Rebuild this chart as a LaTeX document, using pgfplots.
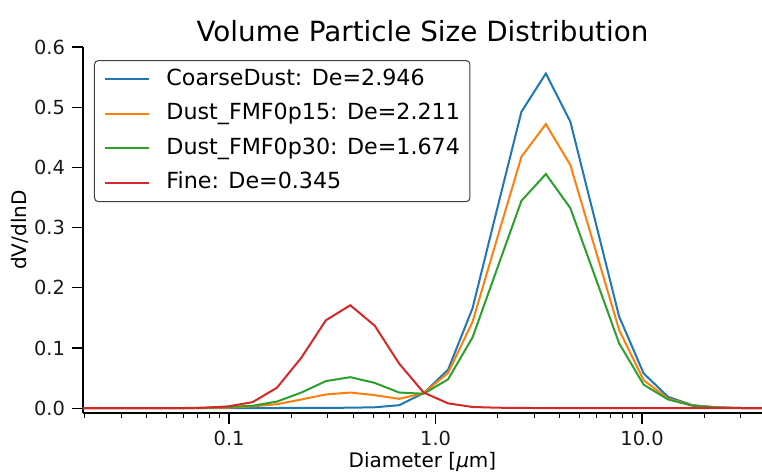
\documentclass[border=0pt]{standalone}
\usepackage{fontspec}
\setmainfont{DejaVu Sans}
\usepackage{pgfplots}
\usepackage{pgfplotstable}
\pgfplotsset{compat=1.18}

\definecolor{tabblue}{HTML}{1F77B4}
\definecolor{taborange}{HTML}{FF7F0E}
\definecolor{tabgreen}{HTML}{2CA02C}
\definecolor{tabred}{HTML}{D62728}

% Volume size distributions on log-spaced diameter bins (um)
\pgfplotstableread{
d        coarse  fmf15   fmf30   fine
0.01925  0.0000  0.0000  0.0000  0.0000
0.02528  0.0000  0.0000  0.0000  0.0000
0.03321  0.0000  0.0000  0.0000  0.0000
0.04362  0.0000  0.0000  0.0000  0.0000
0.05729  0.0000  0.0000  0.0000  0.0002
0.07523  0.0000  0.0003  0.0005  0.0008
0.09883  0.0001  0.0010  0.0020  0.0030
0.1298   0.0002  0.0030  0.0040  0.0100
0.1705   0.0003  0.0066  0.0110  0.0340
0.2239   0.0004  0.0145  0.0260  0.0840
0.2941   0.0005  0.0228  0.0450  0.1460
0.3863   0.0008  0.0260  0.0515  0.1710
0.5074   0.0015  0.0216  0.0420  0.1370
0.6664   0.0050  0.0155  0.0260  0.0740
0.8753   0.0250  0.0250  0.0240  0.0260
1.1497   0.0640  0.0587  0.0480  0.0080
1.510    0.1660  0.1435  0.1175  0.0020
1.983    0.3300  0.2810  0.2310  0.0008
2.605    0.4925  0.4177  0.3446  0.0004
3.421    0.5560  0.4720  0.3890  0.0002
4.494    0.4760  0.4040  0.3324  0.0001
5.902    0.3140  0.2670  0.2200  0.0000
7.751    0.1520  0.1296  0.1075  0.0000
10.18    0.0577  0.0465  0.0390  0.0000
13.37    0.0188  0.0160  0.0145  0.0000
17.56    0.0050  0.0045  0.0040  0.0000
23.07    0.0015  0.0012  0.0010  0.0000
30.29    0.0003  0.0003  0.0003  0.0000
39.79    0.0000  0.0000  0.0000  0.0000
}\psd

\begin{document}
\begin{tikzpicture}
\useasboundingbox (-41.5pt,-29.5pt) rectangle (339.5pt,206.5pt);
\begin{axis}[
  at={(0,0)}, anchor=south west,
  scale only axis, width=339.5pt, height=183pt,
  xmode=log, xmin=0.0196, xmax=38.1,
  ymin=-0.008, ymax=0.6,
  axis lines=left,
  axis line style={-, line width=0.65pt, black},
  tick align=outside,
  major tick length=5.5pt, minor tick length=2.6pt,
  every major tick/.style={line width=0.65pt, black},
  every minor tick/.style={line width=0.5pt, black},
  xtick={0.1,1,10}, xticklabels={0.1,1.0,10.0},
  minor xtick={0.02,0.03,0.04,0.05,0.06,0.07,0.08,0.09,
               0.2,0.3,0.4,0.5,0.6,0.7,0.8,0.9,
               2,3,4,5,6,7,8,9,20,30},
  ytick={0,0.1,0.2,0.3,0.4,0.5,0.6},
  yticklabels={0.0,0.1,0.2,0.3,0.4,0.5,0.6},
  tick label style={font=\fontsize{9.7}{11}\selectfont, text=black!90},
  title={Volume Particle Size Distribution},
  every axis title/.style={at={(rel axis cs:0.5,1)}, anchor=base,
    yshift=2.6pt, font=\fontsize{13.9}{16}\selectfont},
  xlabel={Diameter [{\itshape μ}m]},
  ylabel={dV/dlnD},
  every axis x label/.style={at={(rel axis cs:0.5,0)}, anchor=base,
    yshift=-27pt, font=\fontsize{10}{12}\selectfont},
  every axis y label/.style={at={(rel axis cs:0,0.5)}, xshift=-31.7pt,
    anchor=center, rotate=90, font=\fontsize{10}{12}\selectfont},
  legend cell align=left,
  legend image code/.code={\draw[#1] (0pt,0pt) -- (22pt,0pt);},
  legend style={at={(rel axis cs:0.0162,0.9645)}, anchor=north west,
    draw=black!75, line width=0.5pt, rounded corners=2pt,
    font=\fontsize{11.1}{13}\selectfont,
    inner xsep=5pt, inner ysep=4pt, row sep=6.6pt,
    nodes={inner sep=0pt, text height=8.3pt, text depth=2.4pt}},
  legend style={/tikz/every even column/.append style={column sep=4pt}},
  clip=true,
]
\addplot[tabblue, line width=1pt] table[x=d, y=coarse] {\psd};
\addlegendentry{\hspace{8pt}CoarseDust: De=2.946}
\addplot[taborange, line width=1pt] table[x=d, y=fmf15] {\psd};
\addlegendentry{\hspace{8pt}Dust\_FMF0p15: De=2.211}
\addplot[tabgreen, line width=1pt] table[x=d, y=fmf30] {\psd};
\addlegendentry{\hspace{8pt}Dust\_FMF0p30: De=1.674}
\addplot[tabred, line width=1pt] table[x=d, y=fine] {\psd};
\addlegendentry{\hspace{8pt}Fine: De=0.345}
\end{axis}
\end{tikzpicture}
\end{document}
